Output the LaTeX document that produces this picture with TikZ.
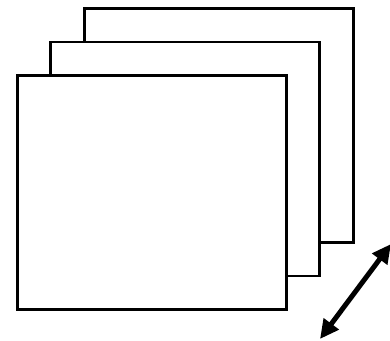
\documentclass[tikz,border=0pt]{standalone}
\usetikzlibrary{arrows.meta}
\begin{document}
\begin{tikzpicture}[x=1pt,y=-1pt,
  sheet/.style={draw=black,fill=white,line width=2.8pt,minimum width=269pt,minimum height=234pt,inner sep=0pt,anchor=north west},
  dbl/.style={line width=5pt,{Triangle[length=19pt,width=18pt]}-{Triangle[length=19pt,width=18pt]}}]
\useasboundingbox (0,0) rectangle (390,340);
\node[sheet] (back) at (83,7) {};
\node[sheet] (mid) at (49,40.5) {};
\node[sheet] (front) at (16,74) {};
\coordinate (a) at (320,339);
\coordinate (b) at (391,244);
\draw[dbl] (a) -- (b);
\end{tikzpicture}
\end{document}
